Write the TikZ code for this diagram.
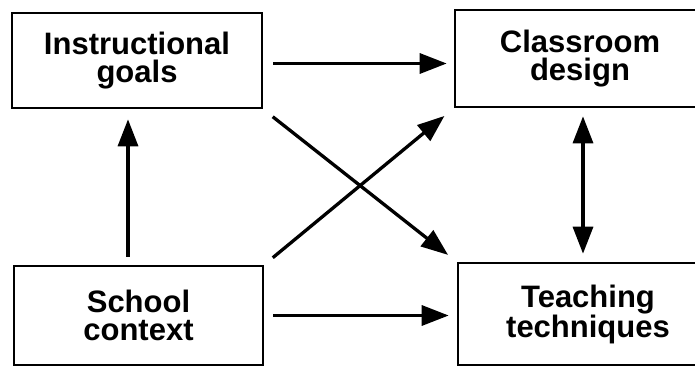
\documentclass[tikz,border=0pt]{standalone}
\usepackage{fontspec}
\setmainfont{Liberation Sans}
\usetikzlibrary{arrows.meta,positioning}

\tikzset{
  box/.style={draw, line width=2.6pt, inner sep=0pt, align=center,
    font=\fontsize{31}{28.5}\selectfont\bfseries},
  link/.style={line width=3.3pt, -{Triangle[length=27pt,width=20pt]}},
  twoway/.style={line width=3.3pt, {Triangle[length=27pt,width=20pt]}-{Triangle[length=27pt,width=20pt]}}
}

\begin{document}
\begin{tikzpicture}[x=1pt,y=-1pt]
  \useasboundingbox (0,0) rectangle (695,367);
% Boxes
  \node[box, minimum width=250pt, minimum height=95pt] (goals) at (137,60.5) {Instructional\\goals};
  \node[box, minimum width=250pt, minimum height=97pt] (design) at (580,58.5) {Classroom\\design};
  \node[box, minimum width=249pt, minimum height=99pt] (school) at (138.5,315.5) {School\\context};
  \node[box, minimum width=260pt, minimum height=102pt] (tech) at (588,314) {Teaching\\techniques};
% Horizontal arrows
  \draw[link, shorten <=10pt, shorten >=7pt] ([yshift=-3pt]goals.east) -- ([yshift=-3pt]goals.east -| design.west);
  \draw[link, shorten <=9pt, shorten >=8pt] (school.east) -- (school.east -| tech.west);
% Crossing arrows
  \draw[link, shorten <=12pt, shorten >=11pt] (goals.south east) -- (tech.north west);
  \draw[link, shorten <=11pt, shorten >=12pt] (school.north east) -- (design.south west);
% Vertical arrows
  \draw[link, shorten <=8pt, shorten >=10pt] ([xshift=-10.5pt]school.north) -- ([xshift=-9pt]goals.south);
  \draw[twoway, shorten <=8pt, shorten >=8pt] ([xshift=3pt]design.south) -- ([xshift=3pt]design.south |- tech.north);
\end{tikzpicture}
\end{document}
